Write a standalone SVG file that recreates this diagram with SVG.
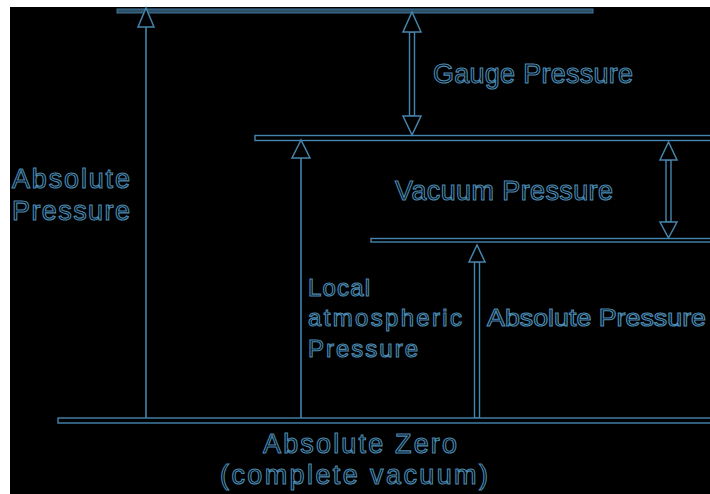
<svg xmlns="http://www.w3.org/2000/svg" width="710" height="494" viewBox="0 0 710 494">
<defs>
<style>
.bar{fill:#000;stroke:#4585ad;stroke-width:1.4}
.shaft{stroke:#4585ad;stroke-width:1.6;fill:none}
.head{fill:#000;stroke:#4585ad;stroke-width:1.5;stroke-linejoin:miter}
.lbl{font-family:"Liberation Sans",Arial,sans-serif;font-size:27px;fill:#000;stroke:#4a8ab2;stroke-width:1.1}
.sm{font-size:24px}
</style>
</defs>
<rect x="0" y="0" width="710" height="494" fill="#fff"/>
<rect x="10" y="7" width="700" height="487" fill="#000"/>
<g id="connectors">
<line class="shaft" x1="146" y1="27" x2="146" y2="418"/>
<line class="shaft" x1="301" y1="158" x2="301" y2="418"/>
<rect class="bar" x="409.5" y="32" width="5" height="84"/>
<rect class="bar" x="666" y="160" width="5" height="62"/>
<rect class="bar" x="474.5" y="262" width="5" height="156"/>
</g>
<g id="levels">
<rect id="top-level" x="117" y="9" width="476" height="4" fill="#2c4f66" stroke="#3f7497" stroke-width="1"/>
<rect id="atm-level" class="bar" x="255" y="135.5" width="460" height="5"/>
<rect id="abs-level" class="bar" x="371" y="238.5" width="344" height="3.5"/>
<rect id="zero-level" class="bar" x="58" y="418" width="660" height="5"/>
</g>
<g id="arrowheads">
<polygon class="head" points="146,8 138,27 154,27"/>
<polygon class="head" points="412,12 403,32 421,32"/>
<polygon class="head" points="412,135 403,116 421,116"/>
<polygon class="head" points="301,140 292,158 310,158"/>
<polygon class="head" points="668.5,142 660,160 677,160"/>
<polygon class="head" points="668.5,238 660,222 677,222"/>
<polygon class="head" points="477,245 469,262 485,262"/>
</g>
<g id="gauge-label"><text class="lbl" x="433" y="83" textLength="200" lengthAdjust="spacing">Gauge Pressure</text></g>
<g id="absolute-left-label">
<text class="lbl" x="12" y="188" textLength="118" lengthAdjust="spacing">Absolute</text>
<text class="lbl" x="12" y="220" textLength="118" lengthAdjust="spacing">Pressure</text>
</g>
<g id="vacuum-label"><text class="lbl" x="395" y="200" textLength="218" lengthAdjust="spacing">Vacuum Pressure</text></g>
<g id="local-label">
<text class="lbl sm" x="308" y="296" textLength="62" lengthAdjust="spacing">Local</text>
<text class="lbl sm" x="308" y="326" textLength="154" lengthAdjust="spacing">atmospheric</text>
<text class="lbl sm" x="308" y="357" textLength="110" lengthAdjust="spacing">Pressure</text>
</g>
<g id="absolute-right-label"><text class="lbl sm" x="487" y="326" textLength="219" lengthAdjust="spacingAndGlyphs">Absolute Pressure</text></g>
<g id="zero-label">
<text class="lbl" x="263" y="453" textLength="194" lengthAdjust="spacing">Absolute Zero</text>
<text class="lbl" x="220" y="484" textLength="268" lengthAdjust="spacing">(complete vacuum)</text>
</g>
</svg>
